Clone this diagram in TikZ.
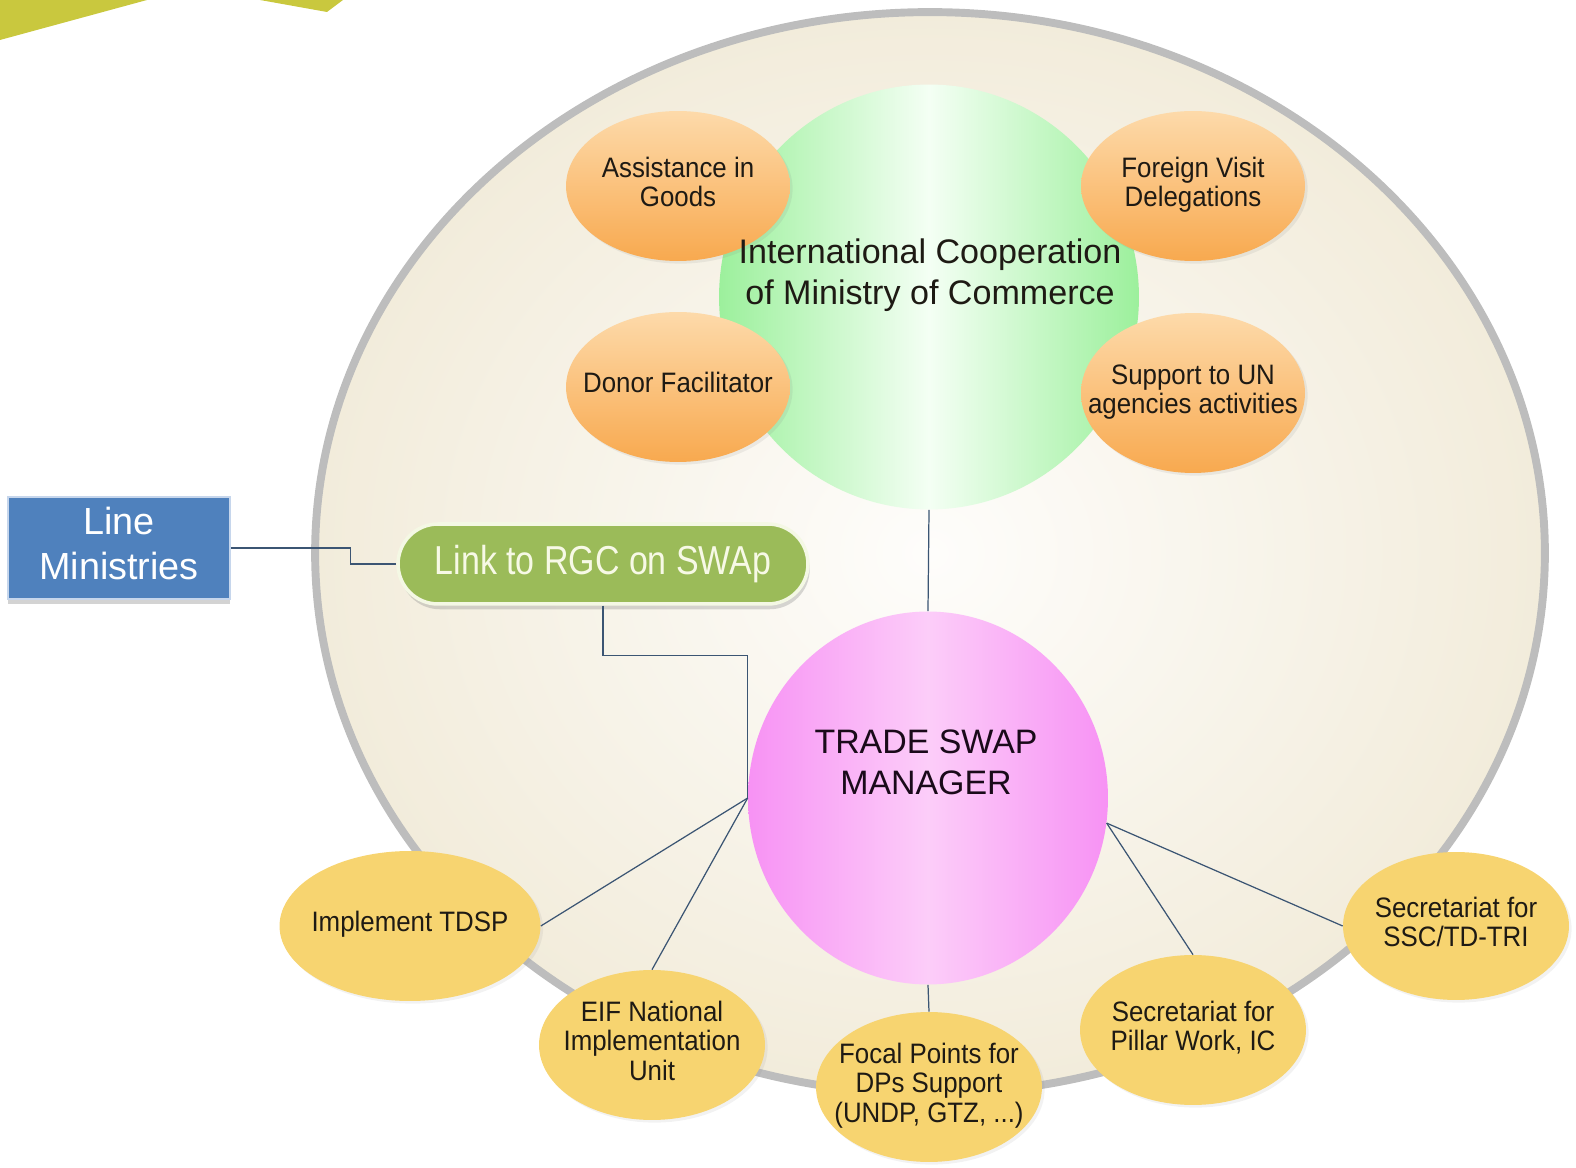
\documentclass[tikz,border=0pt]{standalone}
\usepackage{fontspec}
\setmainfont{Liberation Sans}
\newfontfamily\fsm[FakeStretch=0.92]{Liberation Sans}
\newfontfamily\flk[FakeStretch=0.84]{Liberation Sans}
\usetikzlibrary{shapes.geometric,shadows}
\definecolor{ringgray}{HTML}{BDBDBD}
\definecolor{bgin}{HTML}{FEFDFB}
\definecolor{bgout}{HTML}{F2ECDB}
\definecolor{deco}{HTML}{C9C83E}
\definecolor{grEdge}{HTML}{9CF09C}
\definecolor{grMid}{HTML}{F4FFF4}
\definecolor{orTop}{HTML}{FDDAAA}
\definecolor{orBot}{HTML}{F8A94F}
\definecolor{yel}{HTML}{F7D470}
\definecolor{pkEdge}{HTML}{F792F4}
\definecolor{pkMid}{HTML}{FCCDF9}
\definecolor{lmblue}{HTML}{4F81BD}
\definecolor{lmborder}{HTML}{C6D6EC}
\definecolor{olive}{HTML}{9BBB59}
\definecolor{oliveborder}{HTML}{F4F8E4}
\definecolor{conncol}{HTML}{3B5573}
\definecolor{txt}{HTML}{1E1A14}
\definecolor{tsmtxt}{HTML}{1A0A1A}
\definecolor{linktxt}{HTML}{F7F9E6}
\newcommand\tc[1]{\makebox[0pt]{\begin{tabular}{@{}c@{}}#1\end{tabular}}}
\begin{document}
\begin{tikzpicture}[x=0.02cm,y=-0.02cm,
  conn/.style={draw=conncol, line width=0.7pt},
  bubble/.style={ellipse, inner sep=0pt, text=txt, font=\fsm\fontsize{16}{17}\selectfont},
  orangeb/.style={bubble, top color=orTop, bottom color=orBot, minimum width=4.48cm, minimum height=3cm,
    drop shadow={opacity=0.12, shadow xshift=1.5pt, shadow yshift=-1.5pt}},
  yellowb/.style={bubble, fill=yel, minimum width=4.52cm, minimum height=3cm,
    drop shadow={opacity=0.10, shadow xshift=1.5pt, shadow yshift=-1.5pt}},
]
\useasboundingbox (0,0) rectangle (1576,1168);
% background ring
\node[ellipse, draw=ringgray, line width=4.5pt, inner color=bgin, outer color=bgout,
  minimum width=24.6cm, minimum height=21.64cm] (ring) at (930,553) {};
% corner decoration
\fill[deco] (0,0) -- (147,0) -- (0,40) -- cycle;
\fill[deco] (260,0) -- (343,0) -- (327,12) -- cycle;
% green centre
\node[ellipse, inner sep=0pt, minimum width=8.4cm, minimum height=8.5cm,
  left color=grEdge, right color=grEdge, middle color=grMid] (ic) at (929,297) {};
% orange bubbles
\node[orangeb] (aig) at (678,186) {\tc{Assistance in\\Goods}};
\node[orangeb] (fvd) at (1193,186) {\tc{Foreign Visit\\Delegations}};
\node[orangeb] (df) at (678,387) {\tc{Donor Facilitator}};
\node[orangeb, minimum height=3.2cm] (sun) at (1193,393) {\tc{Support to UN\\agencies activities}};
\node[text=txt, font=\fontsize{19.4}{22.8}\selectfont] (ictext) at (930,276)
  {\tc{International Cooperation\\of Ministry of Commerce}};
% pink manager
\node[ellipse, inner sep=0pt, minimum width=7.2cm, minimum height=7.46cm,
  left color=pkEdge, right color=pkEdge, middle color=pkMid] (tsm) at (928,798) {};
\node[text=tsmtxt, font=\fontsize{19.3}{23}\selectfont] (tsmtext) at (926,766)
  {\tc{TRADE SWAP\\MANAGER}};
% yellow bubbles
\node[yellowb, minimum width=5.22cm] (tdsp) at (410,926) {\tc{Implement TDSP}};
\node[yellowb] (eif) at (652,1045) {\tc{EIF National\\Implementation\\Unit}};
\node[yellowb] (focal) at (929,1087) {\tc{Focal Points for\\DPs Support\\(UNDP, GTZ, ...)}};
\node[yellowb] (pillar) at (1193,1030) {\tc{Secretariat for\\Pillar Work, IC}};
\node[yellowb, minimum height=2.96cm] (ssc) at (1456,926) {\tc{Secretariat for\\SSC/TD-TRI}};
% left boxes
\node[rectangle, fill=lmblue, draw=lmborder, line width=1pt, minimum width=4.44cm, minimum height=1.94cm,
  text=white, font=\fontsize{21.5}{25.5}\selectfont,
  drop shadow={opacity=0.35, shadow xshift=0pt, shadow yshift=-3pt}] (lm) at (119,548) {\tc{Line\\Ministries}};
\node[rectangle, rounded corners=0.8cm, fill=olive, draw=oliveborder, line width=2pt,
  minimum width=8.2cm, minimum height=1.6cm, text=linktxt, font=\flk\fontsize{23}{27}\selectfont,
  drop shadow={opacity=0.3, shadow xshift=1pt, shadow yshift=-3pt}] (link) at (603,564) {Link to RGC on SWAp};
% connectors
\draw[conn] (lm.east) -- ++(120,0) |- (link.west);
\draw[conn] (link.south) -- ++(0,50) -| (tsm.west);
\draw[conn] (tsm.west) -- (tdsp.east);
\draw[conn] (tsm.west) -- (eif.north);
\draw[conn] (ic.south) -- (tsm.north);
\draw[conn] (tsm.south) -- (focal.north);
\draw[conn] (tsm.-8) -- (pillar.north);
\draw[conn] (tsm.-8) -- (ssc.west);
\end{tikzpicture}
\end{document}
